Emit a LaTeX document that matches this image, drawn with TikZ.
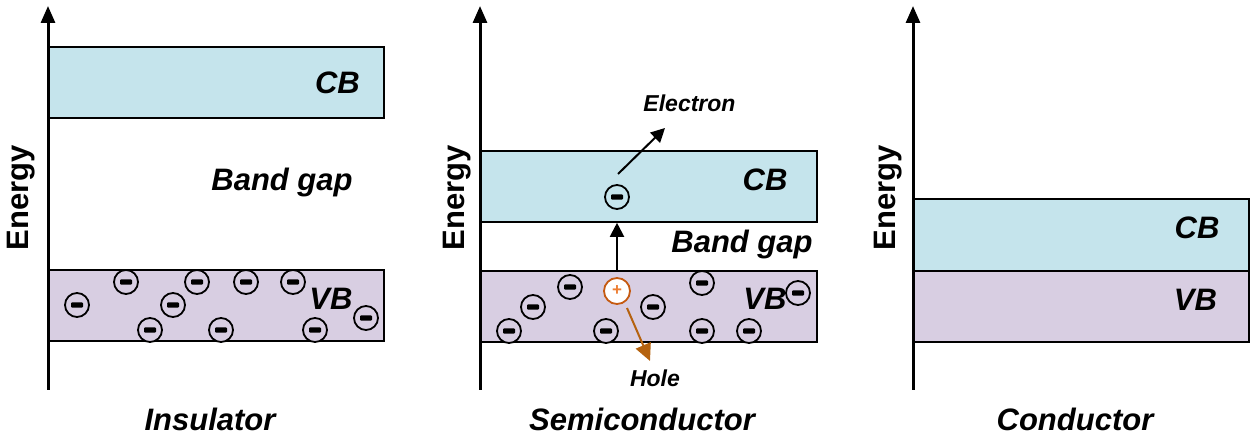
\documentclass[tikz,border=0pt]{standalone}
\usepackage{fontspec}
\setmainfont{Liberation Sans}
\usetikzlibrary{arrows.meta}
\definecolor{cbcol}{HTML}{C5E4EC}
\definecolor{vbcol}{HTML}{D8CEE2}
\definecolor{holeline}{HTML}{C55A11}
\definecolor{holeplus}{HTML}{ED7D31}
\definecolor{holearr}{HTML}{B5620F}
\begin{document}
\begin{tikzpicture}[x=1pt,y=-1pt,
  axis/.style={line width=3pt,-{Triangle[length=17pt,width=14pt]}},
  band/.style={draw,line width=1.6pt,inner sep=0pt},
  elec/.style={circle,draw,line width=1.8pt,minimum size=24pt,inner sep=0pt,fill=vbcol,
    path picture={\fill[black,rounded corners=1pt] ([xshift=-6pt,yshift=-2.6pt]path picture bounding box.center) rectangle ([xshift=6pt,yshift=2.6pt]path picture bounding box.center);}},
  big/.style={font=\fontsize{31}{36}\selectfont\bfseries\itshape,inner sep=0pt},
  small/.style={font=\fontsize{23}{27}\selectfont\bfseries\itshape,inner sep=0pt},
  energy/.style={font=\fontsize{31}{36}\selectfont\bfseries,rotate=90,inner sep=0pt},
  arr/.style={line width=2pt,-{Triangle[length=14pt,width=14pt]}}
]
\useasboundingbox (0,0) rectangle (1251,435);

% ---------- Insulator ----------
\node[band,fill=cbcol,minimum width=335pt,minimum height=71pt] (cb1) at (216.5,82.5) {};
\node[band,fill=vbcol,minimum width=335pt,minimum height=71pt] (vb1) at (216.5,305.5) {};
\coordinate (a1b) at (48,390);
\coordinate (a1t) at (48,6);
\draw[axis] (a1b) -- (a1t);
\node[energy] (en1) at (21.5,197.5) {Energy};
\node[big] (cbt1) at (337.5,82.5) {CB};
\node[big] (bg1) at (282,182) {Band gap};
\node[big] (vbt1) at (331,299) {VB};
\node[big] (ins) at (210,419) {Insulator};
\foreach \n/\x/\y in {1/77/305,2/126/282,3/173/305,4/197/282,5/150/330,6/246/282,7/221/330,8/293/282,9/315/330,10/366/318}
  \node[elec] (ia\n) at (\x,\y) {};

% ---------- Semiconductor ----------
\node[band,fill=cbcol,minimum width=336pt,minimum height=71pt] (cb2) at (649,186.5) {};
\node[band,fill=vbcol,minimum width=336pt,minimum height=71pt] (vb2) at (649,306.5) {};
\coordinate (a2b) at (480,390);
\coordinate (a2t) at (480,6);
\draw[axis] (a2b) -- (a2t);
\node[energy] (en2) at (457,197.5) {Energy};
\node[big] (cbt2) at (765,180) {CB};
\node[big] (bg2) at (742,244) {Band gap};
\node[big] (vbt2) at (765,299) {VB};
\node[big] (semi) at (642,419) {Semiconductor};
\foreach \n/\x/\y in {1/570/287,2/533/307,3/509/331,4/606/331,5/653/307,6/702/283,7/702/331,8/749/331,9/798/293}
  \node[elec] (sa\n) at (\x,\y) {};
\node[elec,fill=cbcol] (e0) at (617,197) {};
\node[circle,draw=holeline,line width=1.8pt,fill=white,minimum size=26pt,inner sep=0pt,
      text=holeplus,font=\fontsize{17}{17}\selectfont\bfseries] (h0) at (617,291) {+};
\draw[arr] (vb2.north -| e0) -- (cb2.south -| e0);
\coordinate (es) at (618,174);
\coordinate (ee) at (665,128);
\draw[arr] (es) -- (ee);
\node[small] (elab) at (689.5,103) {Electron};
\coordinate (hs) at (627,308);
\coordinate (he) at (650,361);
\draw[line width=2pt,draw=holearr,-{Triangle[length=17pt,width=16pt]},fill=holearr] (hs) -- (he);
\node[small] (hlab) at (655,378) {Hole};

% ---------- Conductor ----------
\node[band,fill=cbcol,minimum width=335pt,minimum height=72pt] (cb3) at (1081.5,235) {};
\node[band,fill=vbcol,minimum width=335pt,minimum height=71pt] (vb3) at (1081.5,306.5) {};
\coordinate (a3b) at (913,390);
\coordinate (a3t) at (913,6);
\draw[axis] (a3b) -- (a3t);
\node[energy] (en3) at (888,197.5) {Energy};
\node[big] (cbt3) at (1197,227.5) {CB};
\node[big] (vbt3) at (1195.5,300) {VB};
\node[big] (cond) at (1075,419) {Conductor};
\end{tikzpicture}
\end{document}
